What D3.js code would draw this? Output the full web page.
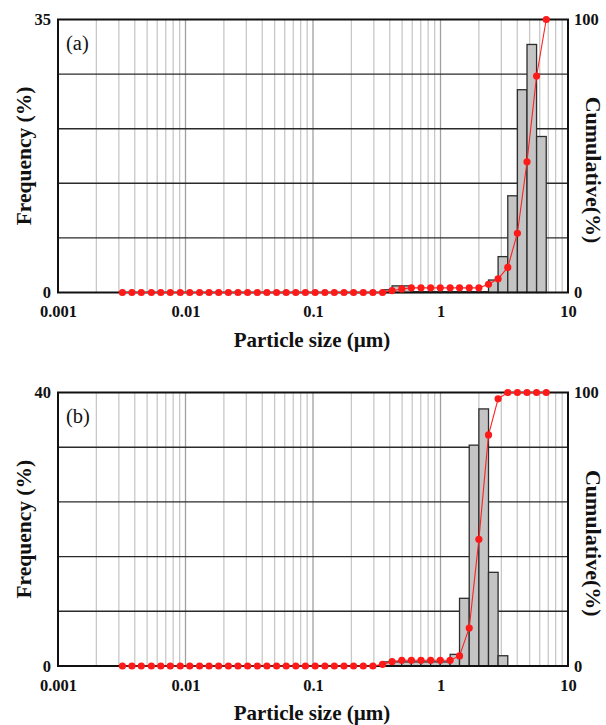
<!DOCTYPE html>
<html>
<head>
<meta charset="utf-8">
<script src="https://cdn.jsdelivr.net/npm/d3@7"></script>
<style>
  body { margin: 0; background: #fff; }
  svg { display: block; }
</style>
</head>
<body>
<div id="chart"></div>
<script>
// particle size distribution, two panels: frequency bars + cumulative curve

// size classes (µm), upper edge of each class; dots sit on these
const sizes = [0.0032, 0.0038, 0.0045, 0.0054, 0.0064, 0.0076, 0.0091, 0.0108, 0.0129, 0.0153,
  0.0182, 0.0217, 0.0258, 0.0307, 0.0366, 0.0435, 0.0518, 0.0616, 0.0733, 0.0872,
  0.104, 0.124, 0.147, 0.175, 0.208, 0.248, 0.295, 0.351, 0.417, 0.497,
  0.591, 0.703, 0.837, 0.996, 1.19, 1.41, 1.68, 2.00, 2.38, 2.83,
  3.37, 4.01, 4.77, 5.67, 6.75, 8.03, 9.56];

// frequency (%) of the class ending at sizes[i]
const freqA = [0, 0, 0, 0, 0, 0, 0, 0, 0, 0,
  0, 0, 0, 0, 0, 0, 0, 0, 0, 0,
  0, 0, 0, 0, 0, 0, 0, 0, 0.35, 0.85,
  0.85, 0.1, 0.1, 0.1, 0.1, 0.1, 0.1, 0.1, 0.1, 1.6,
  4.6, 12.4, 26.0, 31.8, 20.0, 0, 0];
const cumA = [0, 0, 0, 0, 0, 0, 0, 0, 0, 0,
  0, 0, 0, 0, 0, 0, 0, 0, 0, 0,
  0, 0, 0, 0, 0, 0, 0, 0, 0.7, 1.3,
  1.7, 1.7, 1.7, 1.7, 1.7, 1.7, 1.7, 1.7, 3.0, 5.0,
  9.2, 21.7, 47.9, 79.3, 100, null, null];

const freqB = [0, 0, 0, 0, 0, 0, 0, 0, 0, 0,
  0, 0, 0, 0, 0, 0, 0, 0, 0, 0,
  0, 0, 0, 0, 0, 0, 0, 0, 0.6, 0.6,
  0.6, 0.6, 0.6, 0.6, 0.6, 1.7, 9.9, 32.3, 37.6, 13.7,
  1.5, 0, 0, 0, 0, 0, 0];
const cumB = [0, 0, 0, 0, 0, 0, 0, 0, 0, 0,
  0, 0, 0, 0, 0, 0, 0, 0, 0, 0,
  0, 0, 0, 0, 0, 0, 0, 0.6, 1.6, 2.1,
  2.1, 2.1, 2.1, 2.1, 2.1, 3.7, 13.9, 46.3, 84.5, 97.7,
  100, 100, 100, 100, 100, null, null];

const xTicks = [0.001, 0.01, 0.1, 1, 10];
const panels = [
  { label: '(a)', freq: freqA, cum: cumA, freqMax: 35, top: 19.5, bottom: 292.5 },
  { label: '(b)', freq: freqB, cum: cumB, freqMax: 40, top: 392.5, bottom: 666 }
];

const width = 606, height = 725;
const left = 58, right = 568;
const serif = '"Liberation Serif", "Times New Roman", serif';

const svg = d3.select('#chart').append('svg')
  .attr('width', width)
  .attr('height', height);

const x = d3.scaleLog().domain([0.001, 10]).range([left, right]);

// minor + decade positions for the vertical grid
const gridX = [];
[0.001, 0.01, 0.1, 1].forEach(function(d) {
  for (let m = 1; m < 10; m++) {
    if (d === 0.001 && m === 1) continue;
    gridX.push({ v: d * m, major: m === 1 });
  }
});

function drawPanel(p) {
  const yF = d3.scaleLinear().domain([0, p.freqMax]).range([p.bottom, p.top]);
  const yC = d3.scaleLinear().domain([0, 100]).range([p.bottom, p.top]);
  const g = svg.append('g');

  // vertical grid
  g.append('g').selectAll('line').data(gridX).join('line')
    .attr('x1', d => x(d.v)).attr('x2', d => x(d.v))
    .attr('y1', p.top).attr('y2', p.bottom)
    .attr('stroke', d => d.major ? '#a0a0a0' : '#c8c8c8')
    .attr('stroke-width', 1.3);

  // horizontal grid, five divisions
  const steps = d3.range(1, 5).map(i => p.freqMax * i / 5);
  g.append('g').selectAll('line').data(steps).join('line')
    .attr('x1', left).attr('x2', right)
    .attr('y1', d => yF(d)).attr('y2', d => yF(d))
    .attr('stroke', '#2a2a2a')
    .attr('stroke-width', 1.4);

  // frequency bars, each spans previous size -> this size
  const bars = p.freq.map((f, i) => ({ f: f, i: i })).filter(d => d.i > 0);
  g.append('g').selectAll('rect').data(bars).join('rect')
    .attr('x', d => x(sizes[d.i - 1]))
    .attr('width', d => x(sizes[d.i]) - x(sizes[d.i - 1]))
    .attr('y', d => yF(d.f))
    .attr('height', d => p.bottom - yF(d.f))
    .attr('fill', '#c4c4c4')
    .attr('stroke', '#2e2e2e')
    .attr('stroke-width', 1.3);

  // frame
  g.append('rect')
    .attr('x', left).attr('y', p.top)
    .attr('width', right - left).attr('height', p.bottom - p.top)
    .attr('fill', 'none')
    .attr('stroke', '#111')
    .attr('stroke-width', 2);

  // cumulative curve
  const pts = p.cum.map((c, i) => ({ s: sizes[i], c: c })).filter(d => d.c !== null);
  g.append('path').datum(pts)
    .attr('fill', 'none')
    .attr('stroke', '#ff2020')
    .attr('stroke-width', 1.1)
    .attr('d', d3.line().x(d => x(d.s)).y(d => yC(d.c)));
  g.append('g').selectAll('circle').data(pts).join('circle')
    .attr('cx', d => x(d.s)).attr('cy', d => yC(d.c))
    .attr('r', 3.6)
    .attr('fill', '#ff1a1a');

  // axes: only end labels
  const axL = g.append('g').attr('transform', 'translate(' + left + ',0)')
    .call(d3.axisLeft(yF).tickValues([0, p.freqMax]).tickSize(0).tickPadding(7));
  const axR = g.append('g').attr('transform', 'translate(' + right + ',0)')
    .call(d3.axisRight(yC).tickValues([0, 100]).tickSize(0).tickPadding(6));
  const axB = g.append('g').attr('transform', 'translate(0,' + p.bottom + ')')
    .call(d3.axisBottom(x).tickValues(xTicks).tickFormat(d => String(d)).tickSize(0).tickPadding(13));
  [axL, axR, axB].forEach(function(ax) {
    ax.select('.domain').remove();
    ax.selectAll('text')
      .attr('fill', '#111')
      .style('font-family', serif)
      .style('font-size', '16.5px')
      .style('font-weight', 'bold');
  });

  // titles
  const midY = (p.top + p.bottom) / 2;
  g.append('text')
    .attr('transform', 'translate(31,' + midY + ') rotate(-90)')
    .attr('text-anchor', 'middle')
    .style('font-family', serif).style('font-size', '21.5px').style('font-weight', 'bold')
    .attr('fill', '#111')
    .text('Frequency (%)');
  g.append('text')
    .attr('transform', 'translate(586,' + (midY + 14) + ') rotate(90)')
    .attr('text-anchor', 'middle')
    .style('font-family', serif).style('font-size', '22px').style('font-weight', 'bold')
    .attr('fill', '#111')
    .text('Cumulative(%)');
  g.append('text')
    .attr('x', 312)
    .attr('y', p.bottom + 54)
    .attr('text-anchor', 'middle')
    .style('font-family', serif).style('font-size', '21px').style('font-weight', 'bold')
    .attr('fill', '#111')
    .text('Particle size (\u00b5m)');
  g.append('text')
    .attr('x', 66).attr('y', p.top + 30)
    .style('font-family', serif).style('font-size', '20.5px')
    .attr('fill', '#111')
    .text(p.label);
}

panels.forEach(drawPanel);
</script>
</body>
</html>
